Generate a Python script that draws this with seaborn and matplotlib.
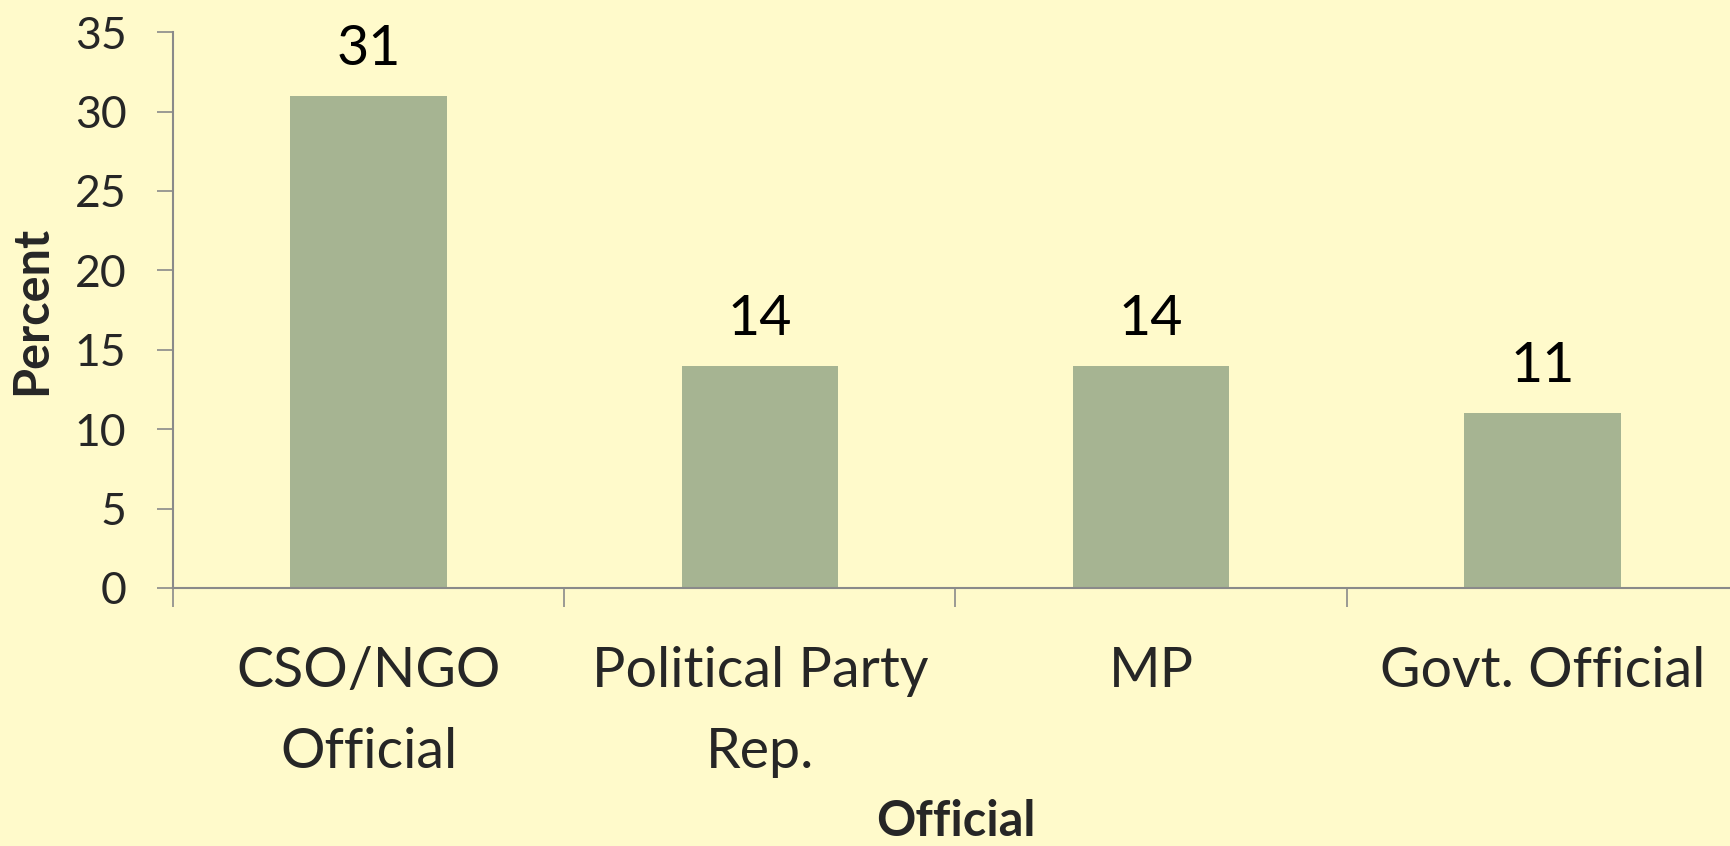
import matplotlib
matplotlib.use('Agg')
import matplotlib.pyplot as plt
import seaborn as sns
import pandas as pd

categories = ['CSO/NGO\nOfficial', 'Political Party\nRep.', 'MP', 'Govt. Official']
percent = [31, 14, 14, 11]
y_ticks = [0, 5, 10, 15, 20, 25, 30, 35]

bg = '#FFFACB'
bar_color = '#A6B492'
axis_gray = '#8A8A8A'

sns.set_theme(style='white')
plt.rcParams['font.family'] = ['Lato', 'DejaVu Sans']

df = pd.DataFrame({'Official': categories, 'Percent': percent})

fig = plt.figure(figsize=(17.3, 8.46), dpi=100, facecolor=bg)
ax = fig.add_axes([0.1, 0.305, 0.9046, 0.657])
ax.set_facecolor(bg)

sns.barplot(data=df, x='Official', y='Percent', color=bar_color, width=0.4,
            saturation=1, linewidth=0, ax=ax)

ax.set_ylim(0, 35)
ax.set_xlim(-0.5, len(categories) - 0.5)
ax.set_yticks(y_ticks)
ax.set_yticklabels([str(t) for t in y_ticks], fontsize=32)
ax.tick_params(axis='y', direction='out', length=11.5, width=1.2, color=axis_gray,
               pad=22, left=True)

# labels centred under the bars, tick marks between the categories
ax.set_xticks(range(len(categories)))
ax.set_xticklabels(categories, fontsize=40, linespacing=1.72)
ax.tick_params(axis='x', length=0, pad=42)
ax.set_xticks([i - 0.5 for i in range(len(categories) + 1)], minor=True)
ax.tick_params(axis='x', which='minor', direction='out', length=14, width=1.2,
               color=axis_gray, bottom=True)

for side in ['top', 'right']:
    ax.spines[side].set_visible(False)
for side in ['left', 'bottom']:
    ax.spines[side].set_color(axis_gray)
    ax.spines[side].set_linewidth(1.5)

for i, v in enumerate(percent):
    ax.annotate(str(v), (i, v), xytext=(0, 15), textcoords='offset points',
                ha='center', va='bottom', fontsize=40, color='black')

ax.set_xlabel('')
ax.set_ylabel('')
fig.text(32 / 1730, 1 - 310 / 846, 'Percent', rotation=90, ha='center', va='center',
         fontsize=35, fontweight='bold')
fig.text(956 / 1730, 0.002, 'Official', ha='center', va='bottom',
         fontsize=35, fontweight='bold')

fig.savefig('out.png', dpi=100, facecolor=bg)
